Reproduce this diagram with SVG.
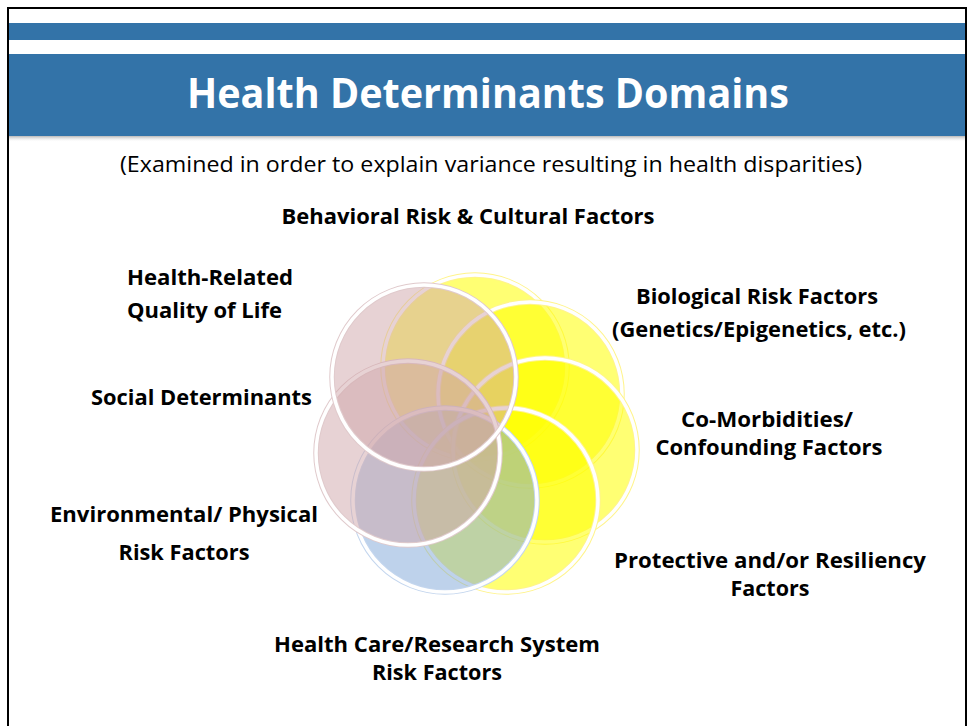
<svg xmlns="http://www.w3.org/2000/svg" width="972" height="726" viewBox="0 0 972 726">
<defs>
<linearGradient id="sh" x1="0" y1="0" x2="0" y2="1">
<stop offset="0" stop-color="#888" stop-opacity="0.6"/>
<stop offset="1" stop-color="#fff" stop-opacity="0"/>
</linearGradient>
<style>
.lbl{font-family:"Open Sans","Liberation Sans",sans-serif;font-weight:bold;font-size:21px;fill:#000}
.ttl{font-family:"Open Sans","Liberation Sans",sans-serif;font-weight:bold;font-size:41px;fill:#fff}
.sub{font-family:"Open Sans","Liberation Sans",sans-serif;font-size:21px;fill:#000}
.y{fill:#FFFF00;fill-opacity:0.55}
.p{fill:#CFA5A9;fill-opacity:0.5}
.b{fill:#7DA5D7;fill-opacity:0.5}
.oy{fill:none;stroke:#FFF48C;stroke-width:5.5}
.op{fill:none;stroke:#E0CACC;stroke-width:5.5}
.ob{fill:none;stroke:#C4D6EE;stroke-width:5.5}
.ow{fill:none;stroke:#fff;stroke-width:3.5}
</style>
</defs>
<rect x="0" y="0" width="972" height="726" fill="#fff"/>
<g id="header">
<rect x="9" y="23" width="956" height="17" fill="#3373A8"/>
<rect x="9" y="54" width="956" height="82" fill="#3373A8"/>
<rect x="9" y="136" width="956" height="6" fill="url(#sh)"/>
<text class="ttl" x="488" y="108" text-anchor="middle" textLength="602" lengthAdjust="spacingAndGlyphs">Health Determinants Domains</text>
</g>
<g id="frame" stroke="#000" stroke-width="2" fill="none">
<path d="M8,726 V8 H966 V726"/>
</g>
<text id="subtitle" class="sub" x="491" y="172" text-anchor="middle" textLength="742" lengthAdjust="spacingAndGlyphs">(Examined in order to explain variance resulting in health disparities)</text>
<g id="circles">
<g id="c-behavioral"><circle class="y" cx="475" cy="367" r="92"/><circle class="oy" cx="475" cy="367" r="92"/><circle class="ow" cx="475" cy="367" r="92"/></g>
<g id="c-biological"><circle class="y" cx="530" cy="394" r="92"/><circle class="oy" cx="530" cy="394" r="92"/><circle class="ow" cx="530" cy="394" r="92"/></g>
<g id="c-comorbid"><circle class="y" cx="545" cy="450" r="92"/><circle class="oy" cx="545" cy="450" r="92"/><circle class="ow" cx="545" cy="450" r="92"/></g>
<g id="c-protective"><circle class="y" cx="506" cy="500" r="92"/><circle class="oy" cx="506" cy="500" r="92"/><circle class="ow" cx="506" cy="500" r="92"/></g>
<g id="c-healthcare"><circle class="b" cx="445" cy="500" r="92"/><circle class="ob" cx="445" cy="500" r="92"/><circle class="ow" cx="445" cy="500" r="92"/></g>
<g id="c-social"><circle class="p" cx="408" cy="453" r="92"/><circle class="op" cx="408" cy="453" r="92"/><circle class="ow" cx="408" cy="453" r="92"/></g>
<g id="c-hrqol"><circle class="p" cx="424" cy="377" r="92"/><circle class="op" cx="424" cy="377" r="92"/><circle class="ow" cx="424" cy="377" r="92"/></g>
</g>
<g id="labels">
<g id="l-behavioral"><text class="lbl" x="468" y="224" text-anchor="middle" textLength="373" lengthAdjust="spacingAndGlyphs">Behavioral Risk &amp; Cultural Factors</text></g>
<g id="l-hrqol"><text class="lbl" x="127" y="285" textLength="166" lengthAdjust="spacingAndGlyphs">Health-Related</text><text class="lbl" x="127" y="318" textLength="155" lengthAdjust="spacingAndGlyphs">Quality of Life</text></g>
<g id="l-biological"><text class="lbl" x="757" y="304" text-anchor="middle" textLength="242" lengthAdjust="spacingAndGlyphs">Biological Risk Factors</text><text class="lbl" x="759" y="337" text-anchor="middle" textLength="294" lengthAdjust="spacingAndGlyphs">(Genetics/Epigenetics, etc.)</text></g>
<g id="l-social"><text class="lbl" x="91" y="405" textLength="221" lengthAdjust="spacingAndGlyphs">Social Determinants</text></g>
<g id="l-comorbid"><text class="lbl" x="767" y="427" text-anchor="middle" textLength="172" lengthAdjust="spacingAndGlyphs">Co-Morbidities/</text><text class="lbl" x="769" y="455" text-anchor="middle" textLength="227" lengthAdjust="spacingAndGlyphs">Confounding Factors</text></g>
<g id="l-environmental"><text class="lbl" x="184" y="522" text-anchor="middle" textLength="268" lengthAdjust="spacingAndGlyphs">Environmental/ Physical</text><text class="lbl" x="184" y="560" text-anchor="middle" textLength="131" lengthAdjust="spacingAndGlyphs">Risk Factors</text></g>
<g id="l-protective"><text class="lbl" x="770" y="568" text-anchor="middle" textLength="312" lengthAdjust="spacingAndGlyphs">Protective and/or Resiliency</text><text class="lbl" x="770" y="596" text-anchor="middle" textLength="79" lengthAdjust="spacingAndGlyphs">Factors</text></g>
<g id="l-healthcare"><text class="lbl" x="437" y="652" text-anchor="middle" textLength="326" lengthAdjust="spacingAndGlyphs">Health Care/Research System</text><text class="lbl" x="437" y="680" text-anchor="middle" textLength="130" lengthAdjust="spacingAndGlyphs">Risk Factors</text></g>
</g>
</svg>
